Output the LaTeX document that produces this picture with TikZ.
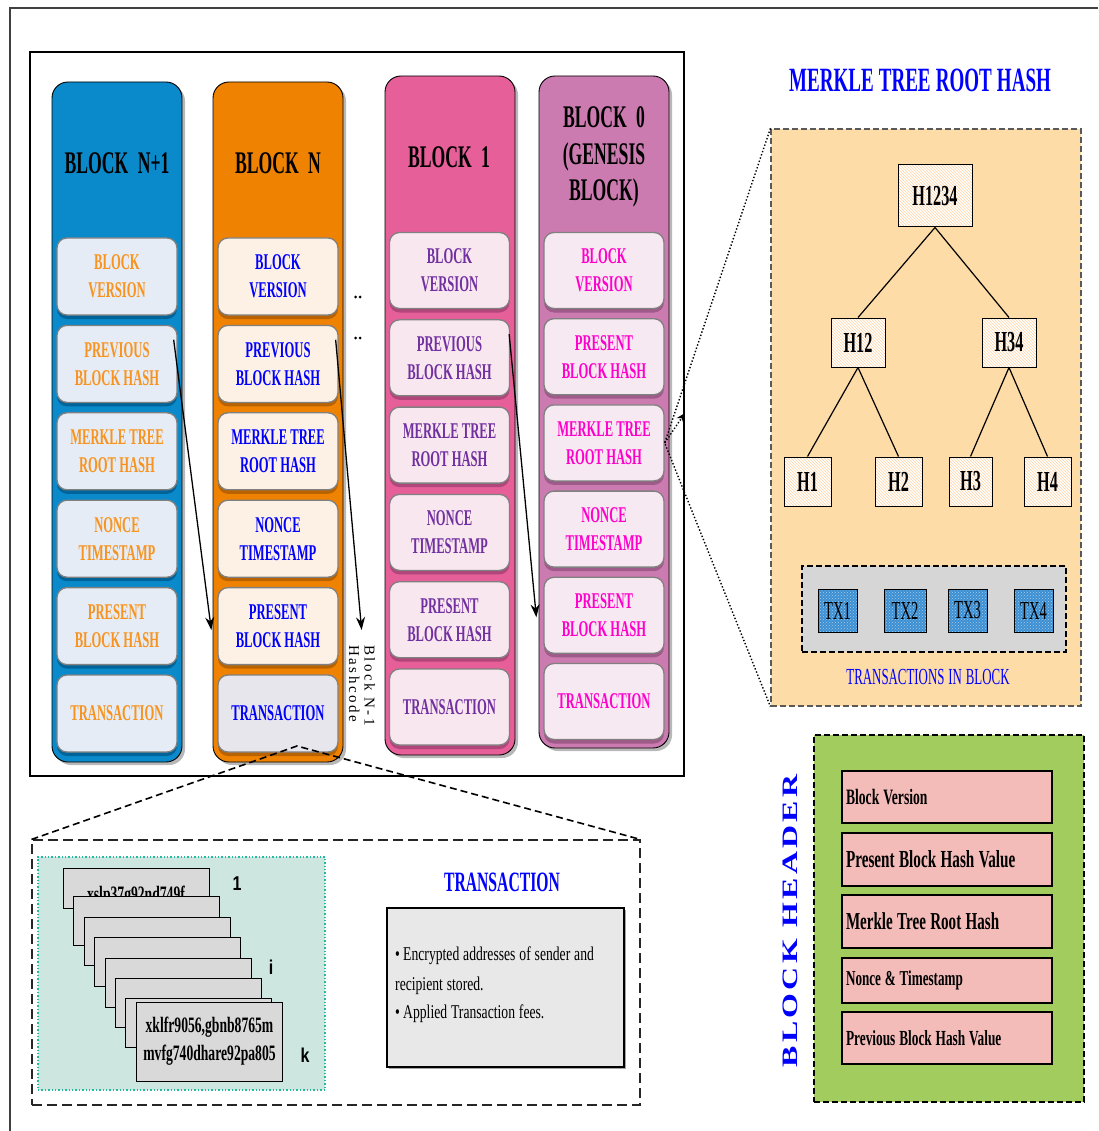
\documentclass[tikz,border=0pt]{standalone}
\usepackage{fontspec}
\setmainfont{Liberation Serif}
\newfontfamily\fA[FakeStretch=0.56]{Liberation Serif}
\newfontfamily\fB[FakeStretch=0.62]{Liberation Serif}
\newfontfamily\fC[FakeStretch=0.70]{Liberation Serif}
\newfontfamily\fW[FakeStretch=1.45,LetterSpace=15]{Liberation Serif}
\newfontfamily\fL[LetterSpace=17]{Liberation Serif}
\newfontfamily\fS[FakeStretch=0.80]{Liberation Sans}
\usetikzlibrary{patterns,arrows.meta,calc}

\definecolor{colNone}{HTML}{0A8ACB}
\definecolor{colN}{HTML}{EF8200}
\definecolor{colOne}{HTML}{E65F99}
\definecolor{colZero}{HTML}{CC7BB0}
\definecolor{inNone}{HTML}{E6ECF5}
\definecolor{inN}{HTML}{FDF1E5}
\definecolor{inNtx}{HTML}{E6E6EC}
\definecolor{inOne}{HTML}{F9E7EF}
\definecolor{inZero}{HTML}{F7E9F1}
\definecolor{shNone}{HTML}{00649A}
\definecolor{shN}{HTML}{B86200}
\definecolor{shOne}{HTML}{B0467A}
\definecolor{shZero}{HTML}{9E5A88}
\definecolor{txNone}{HTML}{F7931E}
\definecolor{txN}{HTML}{0000FF}
\definecolor{txOne}{HTML}{7030A0}
\definecolor{txZero}{HTML}{FF00CC}
\definecolor{peach}{HTML}{FDDCA8}
\definecolor{leaf}{HTML}{A3CC5F}
\definecolor{rose}{HTML}{F4BCB9}
\definecolor{txblue}{HTML}{3C8FD3}
\definecolor{teal}{HTML}{CDE6E0}
\definecolor{tealline}{HTML}{22BBA0}

% condensed faces with an explicit word space
\newcommand\condfont[4]{#1\bfseries\fontsize{#2}{#3}\selectfont\spaceskip=#4em plus 0.05em minus 0.02em\relax}
\newcommand\condplain[4]{#1\fontsize{#2}{#3}\selectfont\spaceskip=#4em plus 0.05em minus 0.02em\relax}
% left-aligned line inside a header row
\newcommand\rowtext[1]{\makebox[202pt][l]{#1}}

\tikzset{
  column/.style={draw=black, line width=0.9pt, rounded corners=16pt, inner sep=0pt,
    preaction={fill=black!28, draw=none, transform canvas={xshift=3pt,yshift=-3pt}}},
  blocktitle/.style={font=\condfont{\fA}{31.5}{36.5}{0.3}, align=center, text=black},
  field/.style n args={3}{draw=black!50, line width=1.3pt, rounded corners=10pt,
    fill=#1, text=#3, minimum width=120pt, minimum height=76pt, align=center, inner sep=0pt,
    font=\condfont{\fA}{22.5}{28}{0.14},
    preaction={fill=#2, draw=none, transform canvas={yshift=-4pt}}},
  chainarrow/.style={line width=1.3pt, -{Stealth[length=13pt,width=9pt]}},
  hashbox/.style={draw=black, line width=1pt, preaction={fill=white},
    pattern=north west lines, pattern color=orange!35, inner sep=0pt,
    font=\fA\bfseries\fontsize{29}{30}\selectfont},
  txbox/.style={draw=black, line width=1pt, preaction={fill=txblue},
    pattern=crosshatch dots, pattern color=white!55!txblue, inner sep=0pt,
    minimum height=43pt, font=\fA\fontsize{26}{27}\selectfont},
  hdrrow/.style={draw=black, line width=1.3pt, fill=rose, minimum width=210pt,
    inner xsep=4pt, inner ysep=0pt},
  card/.style={draw=black, line width=1pt, fill=black!15, minimum width=146pt, inner sep=0pt},
  cardlabel/.style={font=\fS\bfseries\fontsize{20}{22}\selectfont},
  bullettext/.style={anchor=base west, inner sep=0pt, font=\condplain{\fC}{19.5}{22}{0.2}},
  zoomline/.style={dash pattern=on 7pt off 4pt, line width=1.6pt},
}

\begin{document}
\begin{tikzpicture}[x=1pt,y=-1pt]
\useasboundingbox (0,0) rectangle (1098,1131);
\fill[white] (0,0) rectangle (1098,1131);

% thin outer frame
\draw[black!75, line width=1.2pt] (10,1131) -- (10,8) -- (1098,8);

% frame around the chain of blocks
\node[draw, line width=2.6pt, minimum width=654pt, minimum height=724pt, inner sep=0pt] (chain) at (357,414) {};

% ---- block columns ----
\node[column, fill=colNone, minimum width=130pt, minimum height=680pt] (colNone) at (117,422) {};
\node[column, fill=colN,    minimum width=130pt, minimum height=680pt] (colN)    at (278,422) {};
\node[column, fill=colOne,  minimum width=130pt, minimum height=679pt] (colOne)  at (450,415.5) {};
\node[column, fill=colZero, minimum width=130pt, minimum height=672pt] (colZero) at (604,412) {};

\node[blocktitle] (tNone) at (117,163) {BLOCK N+1};
\node[blocktitle] (tN)    at (278,163) {BLOCK N};
\node[blocktitle] (tOne)  at (449,157) {BLOCK 1};
\node[blocktitle] (tZero) at (604,157) {BLOCK 0\\(GENESIS\\BLOCK)};

% block N+1 fields
\foreach \t [count=\k from 0] in {{BLOCK\\VERSION},{PREVIOUS\\BLOCK HASH},{MERKLE TREE\\ROOT HASH},{NONCE\\TIMESTAMP},{PRESENT\\BLOCK HASH},{TRANSACTION}}
  \node[field={inNone}{shNone}{txNone}, minimum height=77pt] (n1r\k) at (117,276.5+87.4*\k) {\t};

% block N fields
\foreach \t [count=\k from 0] in {{BLOCK\\VERSION},{PREVIOUS\\BLOCK HASH},{MERKLE TREE\\ROOT HASH},{NONCE\\TIMESTAMP},{PRESENT\\BLOCK HASH}}
  \node[field={inN}{shN}{txN}, minimum height=77pt] (nr\k) at (278,276.5+87.4*\k) {\t};
\node[field={inNtx}{shN}{txN}, minimum height=77pt] (nr5) at (278,713.5) {TRANSACTION};

% block 1 fields
\foreach \t [count=\k from 0] in {{BLOCK\\VERSION},{PREVIOUS\\BLOCK HASH},{MERKLE TREE\\ROOT HASH},{NONCE\\TIMESTAMP},{PRESENT\\BLOCK HASH},{TRANSACTION}}
  \node[field={inOne}{shOne}{txOne}] (b1r\k) at (449.5,270.5+87.3*\k) {\t};

% block 0 fields
\foreach \t [count=\k from 0] in {{BLOCK\\VERSION},{PRESENT\\BLOCK HASH},{MERKLE TREE\\ROOT HASH},{NONCE\\TIMESTAMP},{PRESENT\\BLOCK HASH},{TRANSACTION}}
  \node[field={inZero}{shZero}{txZero}] (b0r\k) at (604,270.5+86.2*\k) {\t};

% ellipsis between block N and block 1
\fill (355.5,297) circle (1.5) (360,297) circle (1.5);
\fill (355.5,338) circle (1.5) (360,338) circle (1.5);

% hash links
\draw[chainarrow] ($(n1r1.north east)+(-4,15)$) -- ($(nr4.west)+(-6,4)$);
\draw[chainarrow] ($(nr1.north east)+(-3,15)$) -- ($(nr4.east)+(23,4)$);
\draw[chainarrow] ($(b1r1.north east)+(-1,15)$) -- ($(b0r4.west)+(-7,2)$);
\node[rotate=-90, anchor=west, align=left, inner sep=0pt, font=\fL\fontsize{15}{15.5}\selectfont] (hashcode) at (362,645) {Block N-1\\Hashcode};

% ---- Merkle tree ----
\node[font=\condfont{\fA}{34}{36}{0.15}, text=blue] (mktitle) at (920,80) {MERKLE TREE ROOT HASH};
\node[draw=black!65, dash pattern=on 6pt off 3pt, line width=1.2pt, fill=peach,
      minimum width=310pt, minimum height=577pt, inner sep=0pt] (mkbox) at (926,417.5) {};

\node[hashbox, minimum width=74pt, minimum height=62pt] (h1234) at (935,196) {H1234};
\node[hashbox, minimum width=54pt, minimum height=49pt] (h12) at (858,342.5) {H12};
\node[hashbox, minimum width=54pt, minimum height=49pt] (h34) at (1009,342.5) {H34};
\node[hashbox, minimum width=47pt, minimum height=49pt] (h1) at (807.5,481.5) {H1};
\node[hashbox, minimum width=47pt, minimum height=49pt] (h2) at (898.5,481.5) {H2};
\node[hashbox, minimum width=43pt, minimum height=49pt] (h3) at (970.5,481.5) {H3};
\node[hashbox, minimum width=47pt, minimum height=49pt] (h4) at (1047.5,481.5) {H4};
\draw[line width=1.2pt] (h1234.south) -- (h12.north);
\draw[line width=1.2pt] (h1234.south) -- (h34.north);
\draw[line width=1.2pt] (h12.south) -- (h1.north);
\draw[line width=1.2pt] (h12.south) -- (h2.north);
\draw[line width=1.2pt] (h34.south) -- (h3.north);
\draw[line width=1.2pt] (h34.south) -- (h4.north);

\node[draw=black, dash pattern=on 6pt off 3pt, line width=1.2pt, fill=black!16,
      minimum width=264pt, minimum height=86pt, inner sep=0pt] (txset) at (934,609) {};
\node[txbox, minimum width=39pt] (tx1) at (837.5,610.5) {TX1};
\node[txbox, minimum width=42pt] (tx2) at (905,610.5) {TX2};
\node[txbox, minimum width=39pt] (tx3) at (967.5,610.5) {TX3};
\node[txbox, minimum width=39pt] (tx4) at (1033.5,610.5) {TX4};
\node[font=\condplain{\fA}{23}{24}{0.17}, text=blue] (txlabel) at (928,677) {TRANSACTIONS IN BLOCK};

% zoom from the genesis Merkle root into the tree
\draw[dotted, line width=1.4pt] (mkbox.north west) -- (b0r2.east) -- (mkbox.south west);
\draw[dotted, line width=1.4pt, -{Stealth[length=9pt,width=8pt]}] (b0r2.east) -- (685,413);

% ---- block header ----
\node[draw=black, dash pattern=on 6pt off 3pt, line width=1.2pt, fill=leaf,
      minimum width=270pt, minimum height=367pt, inner sep=0pt] (hdrbox) at (949,918.5) {};
\node[rotate=90, text=blue, inner sep=0pt, font=\fW\bfseries\fontsize{22}{24}\selectfont] (hdrtitle) at (790,921) {BLOCK HEADER};
\node[hdrrow, minimum height=52pt, font=\condfont{\fB}{22}{24}{0.18}] (hv) at (947,797) {\rowtext{Block Version}};
\node[hdrrow, minimum height=53pt, font=\condfont{\fB}{24.5}{26}{0.18}] (hp) at (947,859.5) {\rowtext{Present Block Hash Value}};
\node[hdrrow, minimum height=53pt, font=\condfont{\fB}{24.3}{26}{0.18}] (hm) at (947,921.5) {\rowtext{Merkle Tree Root Hash}};
\node[hdrrow, minimum height=45pt, font=\condfont{\fB}{21.2}{23}{0.18}] (hn) at (947,980.5) {\rowtext{Nonce \& Timestamp}};
\node[hdrrow, minimum height=52pt, font=\condfont{\fB}{21.5}{23}{0.18}] (hpr) at (947,1038) {\rowtext{Previous Block Hash Value}};

% ---- transaction detail ----
\node[draw=black!85, dash pattern=on 10pt off 5pt, line width=1.1pt,
      minimum width=608pt, minimum height=265pt, inner sep=0pt] (txzoom) at (336,972.5) {};
\coordinate (apex) at (297,746);
\draw[zoomline] (txzoom.north west) -- (apex) -- (txzoom.north east);

\node[draw=tealline, dotted, line width=1.4pt, fill=teal,
      minimum width=287pt, minimum height=233pt, inner sep=0pt] (pool) at (181.5,973.5) {};

\node[card, minimum height=40pt] (c1) at (136,888) {};
\node[anchor=base, inner sep=0pt, font=\fB\bfseries\fontsize{22}{24}\selectfont] (c1txt) at (136,901) {xslp37g92nd749f};
\node[card, minimum height=49pt] (c2) at (146.5,920.5) {};
\node[card, minimum height=48pt] (c3) at (157,941) {};
\node[card, minimum height=49pt] (c4) at (167.5,961.5) {};
\node[card, minimum height=49pt] (c5) at (178.5,982.5) {};
\node[card, minimum height=49pt] (c6) at (188.5,1002.5) {};
\node[card, minimum height=49pt] (c7) at (198.5,1022.5) {};
\node[card, minimum height=79pt, align=center, font=\fB\bfseries\fontsize{22}{28}\selectfont] (c8) at (209.5,1041.5) {xklfr9056,gbnb8765m\\mvfg740dhare92pa805};
\node[cardlabel] (lone) at (237,884) {1};
\node[cardlabel] (li) at (271,967) {i};
\node[cardlabel] (lk) at (305,1055) {k};

\node[font=\fA\bfseries\fontsize{28}{30}\selectfont, text=blue] (txtitle) at (502,882) {TRANSACTION};
\node[draw=black, line width=1.2pt, fill=black!9, minimum width=237pt, minimum height=159pt, inner sep=0pt,
      preaction={fill=black!35, draw=none, transform canvas={xshift=1.5pt,yshift=-1.5pt}}] (txinfo) at (505.5,987.5) {};
\node[bullettext] (txl1) at (395,960) {\textbullet\,Encrypted addresses of sender and};
\node[bullettext] (txl2) at (395,990) {recipient stored.};
\node[bullettext] (txl3) at (395,1018) {\textbullet\,Applied Transaction fees.};
\end{tikzpicture}
\end{document}
